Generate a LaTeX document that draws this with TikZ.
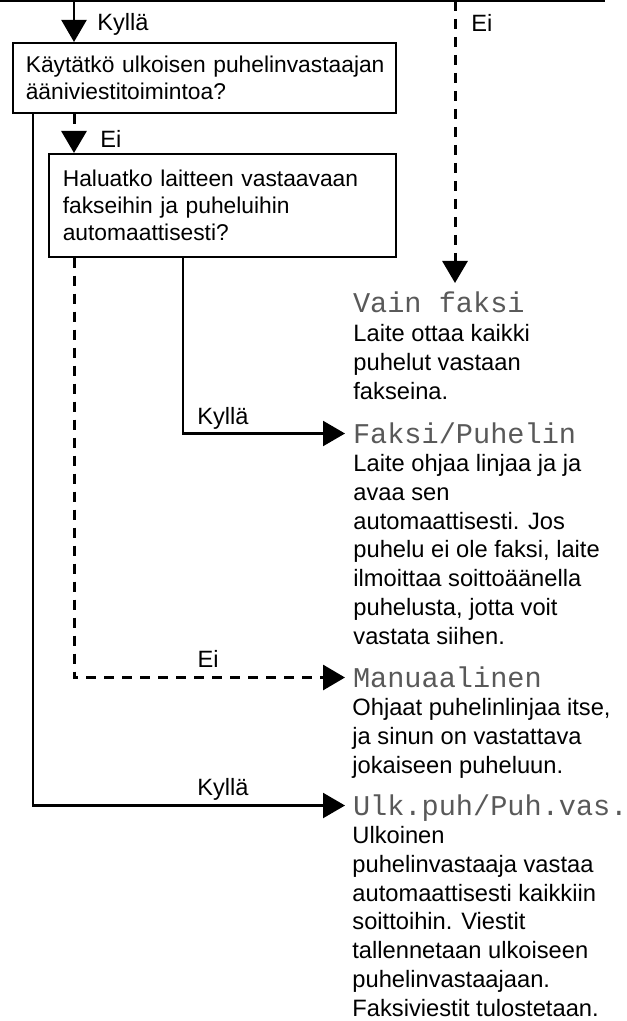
\documentclass[tikz,border=0pt]{standalone}
\usepackage{fontspec}
\setmainfont{Liberation Sans}
\newfontfamily\lcdfont{Liberation Mono}
\usetikzlibrary{arrows.meta,positioning}
\tikzset{
  qbox/.style={draw, line width=0.8pt, anchor=north west, align=left, inner xsep=6.5pt,
    font=\fontsize{11.4pt}{13.5pt}\selectfont},
  mode/.style={anchor=base west, inner sep=0pt, outer xsep=4pt, outer ysep=5.5pt,
    text height=9.5pt, text depth=0pt, text=black!65,
    font=\lcdfont\fontsize{14.3pt}{16pt}\selectfont},
  info/.style={anchor=north west, inner sep=0pt, align=left,
    font=\fontsize{11.85pt}{14.4pt}\selectfont},
  lbl/.style={inner sep=0pt, font=\fontsize{11.8pt}{14pt}\selectfont},
  yesline/.style={line width=1.1pt, -{Triangle[length=11pt,width=12.5pt]}},
  noline/.style={yesline, line width=1.5pt, dash pattern=on 5pt off 4pt},
}

\begin{document}
\begin{tikzpicture}[x=0.5pt, y=-0.5pt]
  \useasboundingbox (0,0) rectangle (626,1021);

  % questions
  \node[qbox, minimum width=191.5pt, minimum height=35pt, text width=178.5pt] (q1) at (12,42)
    {\mbox{Käytätkö ulkoisen puhelinvastaajan}\\ääniviestitoimintoa?};
  \node[qbox, inner xsep=7pt, minimum width=173.5pt, minimum height=51.5pt, text width=159.5pt] (q2) at (48,153)
    {Haluatko laitteen vastaavaan\\fakseihin ja puheluihin\\automaattisesti?};

  % modes
  \node[mode] (vain) at (345,313) {Vain faksi};
  \node[info] (vainb) at (353,324) {Laite ottaa kaikki\\puhelut vastaan\\fakseina.};

  \node[mode] (faks) at (345,443) {Faksi/Puhelin};
  \node[info] (faksb) at (353,454) {Laite ohjaa linjaa ja ja\\avaa sen\\automaattisesti. Jos\\puhelu ei ole faksi, laite\\ilmoittaa soittoäänella\\puhelusta, jotta voit\\vastata siihen.};

  \node[mode] (man) at (345,687) {Manuaalinen};
  \node[info] (manb) at (352,698) {Ohjaat puhelinlinjaa itse,\\ja sinun on vastattava\\jokaiseen puheluun.};

  \node[mode] (ulk) at (345,815) {Ulk.puh/Puh.vas.};
  \node[info] (ulkb) at (352,826) {Ulkoinen\\puhelinvastaaja vastaa\\automaattisesti kaikkiin\\soittoihin. Viestit\\tallennetaan ulkoiseen\\puhelinvastaajaan.\\Faksiviestit tulostetaan.};

  % labels
  \node[lbl, anchor=west] (k1) at (97,24) {Kyllä};
  \node[lbl, anchor=west] (e1) at (471,23) {Ei};
  \node[lbl, anchor=west] (e2) at (100,139) {Ei};
  \node[lbl] (k2) at (223,418) {Kyllä};
  \node[lbl] (e3) at (208,659) {Ei};
  \node[lbl] (k3) at (223,789) {Kyllä};

  % connectors
  \coordinate (topl) at (0,1);
  \coordinate (topr) at (605,1);
  \coordinate (yes1) at (74,1);
  \coordinate (no1) at (455,1);
  \coordinate (lx) at (33,0);
  \coordinate (fx) at (183,0);

  \draw[line width=1pt] (topl) -- (topr);
  \draw[yesline] (yes1) -- (yes1 |- q1.north);
  \draw[noline] (no1) -- (no1 |- vain.north);
  \draw[noline] (q1.south -| yes1) -- (q2.north -| yes1);
  \draw[yesline] (q2.south -| fx) -- (fx |- faks.west) -- (faks.west);
  \draw[noline] (q2.south -| yes1) -- (yes1 |- man.west) -- (man.west);
  \draw[yesline] (q1.south -| lx) -- (lx |- ulk.west) -- (ulk.west);
\end{tikzpicture}
\end{document}
